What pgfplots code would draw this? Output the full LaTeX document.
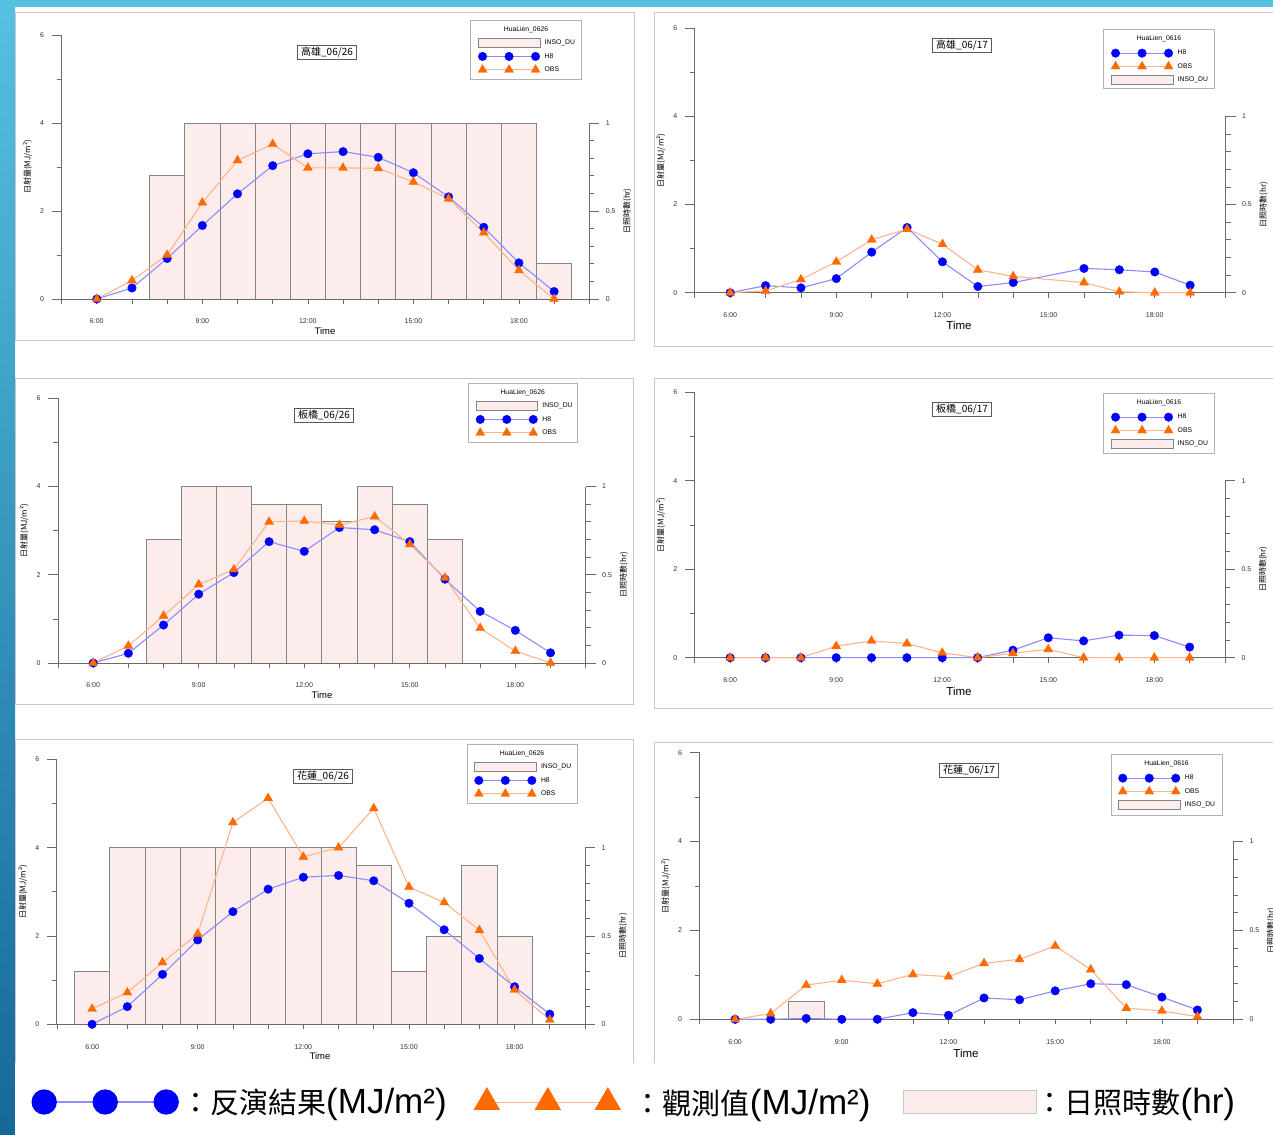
\documentclass[border=0pt]{standalone}
\usepackage{fontspec}
\setmainfont{Liberation Sans}
\newfontfamily\cjk{Noto Sans CJK TC}
\usepackage{pgfplots}
\pgfplotsset{compat=1.18}
\usepackage{pgfplotstable}

\definecolor{hb}{HTML}{0000FF}
\definecolor{hbl}{HTML}{8C8CFF}
\definecolor{ob}{HTML}{FF6A00}
\definecolor{obl}{HTML}{FFB48A}
\definecolor{barfill}{HTML}{FDECEC}
\definecolor{bardraw}{HTML}{858585}
\definecolor{axgray}{HTML}{6A6A6A}
\definecolor{framegray}{HTML}{C8C8C8}
\definecolor{slidecyan}{HTML}{56C1E1}
\definecolor{slideblue}{HTML}{16689A}

\newcommand\ticfont{\fontsize{7}{8}\selectfont}
\newcommand\lblfont{\cjk\fontsize{8}{9}\selectfont}
\newcommand\legfont{\fontsize{6.8}{8}\selectfont}
\newcommand\ttlfont{\cjk\fontsize{10}{11}\selectfont}
\newcommand\botfont{\cjk\fontsize{29}{32}\selectfont}
\newcommand\botlat{\rmfamily\fontsize{35}{38}\selectfont}

% ---------- data ----------
% Panel A: Kaohsiung 06/26
\pgfplotstableread{
x y
6 0
7 0.25
8 0.92
9 1.67
10 2.39
11 3.03
12 3.30
13 3.35
14 3.22
15 2.87
16 2.32
17 1.63
18 0.82
19 0.17
}\hA
\pgfplotstableread{
x y
6 0
7 0.42
8 1.00
9 2.19
10 3.15
11 3.52
12 2.98
13 2.98
14 2.97
15 2.66
16 2.28
17 1.51
18 0.65
19 0
}\oA
\pgfplotstableread{
x y
8 0.7
9 1
10 1
11 1
12 1
13 1
14 1
15 1
16 1
17 1
18 1
19 0.2
}\bA
% Panel B: Kaohsiung 06/17
\pgfplotstableread{
x y
6 0
7 0.16
8 0.11
9 0.32
10 0.92
11 1.48
12 0.70
13 0.14
14 0.23
16 0.55
17 0.52
18 0.47
19 0.17
}\hB
\pgfplotstableread{
x y
6 0
7 0.04
8 0.30
9 0.70
10 1.20
11 1.44
12 1.10
13 0.52
14 0.37
16 0.23
17 0.02
18 0
19 0
}\oB
% Panel C: Banqiao 06/26
\pgfplotstableread{
x y
6 0
7 0.22
8 0.86
9 1.56
10 2.05
11 2.75
12 2.53
13 3.07
14 3.02
15 2.75
16 1.90
17 1.17
18 0.74
19 0.23
}\hC
\pgfplotstableread{
x y
6 0
7 0.39
8 1.07
9 1.78
10 2.12
11 3.20
12 3.22
13 3.13
14 3.32
15 2.69
16 1.93
17 0.79
18 0.27
19 0
}\oC
\pgfplotstableread{
x y
8 0.7
9 1
10 1
11 0.9
12 0.9
13 0.8
14 1
15 0.9
16 0.7
}\bC
% Panel D: Banqiao 06/17
\pgfplotstableread{
x y
6 0
7 0
8 0
9 0
10 0
11 0
12 0
13 0
14 0.17
15 0.45
16 0.38
17 0.51
18 0.50
19 0.24
}\hD
\pgfplotstableread{
x y
6 0
7 0
8 0
9 0.26
10 0.38
11 0.32
12 0.11
13 0
14 0.10
15 0.19
16 0
17 0
18 0
19 0
}\oD
% Panel E: Hualien 06/26
\pgfplotstableread{
x y
6 0
7 0.40
8 1.13
9 1.91
10 2.55
11 3.06
12 3.33
13 3.37
14 3.25
15 2.74
16 2.14
17 1.49
18 0.85
19 0.23
}\hE
\pgfplotstableread{
x y
6 0.35
7 0.72
8 1.40
9 2.05
10 4.57
11 5.12
12 3.79
13 4.00
14 4.89
15 3.11
16 2.76
17 2.13
18 0.78
19 0.10
}\oE
\pgfplotstableread{
x y
6 0.3
7 1
8 1
9 1
10 1
11 1
12 1
13 1
14 0.9
15 0.3
16 0.5
17 0.9
18 0.5
}\bE
% Panel F: Hualien 06/17
\pgfplotstableread{
x y
6 0
7 0
8 0.02
9 0
10 0
11 0.15
12 0.09
13 0.48
14 0.44
15 0.64
16 0.80
17 0.78
18 0.50
19 0.21
}\hF
\pgfplotstableread{
x y
6 0
7 0.13
8 0.77
9 0.88
10 0.80
11 1.01
12 0.96
13 1.26
14 1.35
15 1.65
16 1.12
17 0.25
18 0.19
19 0.06
}\oF
\pgfplotstableread{
x y
8 0.1
}\bF

\pgfplotsset{
  panel/.style n args={4}{at={(#1pt,#2pt)}, anchor=south west, scale only axis,
    width=#3pt, height=#4pt, xmin=5, xmax=20, clip=false},
  barax/.style={
    ymin=0, ymax=1.5,
    axis x line=none, axis y line*=right,
    y axis line style={draw=none},
    ytick={0,0.5,1}, yticklabels={0,0.5,1},
    minor ytick={0.1,0.2,0.3,0.4,0.6,0.7,0.8,0.9},
    tick align=outside, major tick length=10pt, minor tick length=5pt,
    every tick/.style={axgray, line width=0.7pt},
    yticklabel style={font=\ticfont, text=black!80, xshift=3pt},
    after end axis/.code={
      \draw[axgray, line width=0.8pt] (axis cs:20,0) -- (axis cs:20,1);
      \node[xshift=38pt, rotate=90, font=\lblfont] at (axis cs:20,0.5) {日照時數(hr)};
    },
  },
  lineax/.style={
    ymin=0, ymax=6,
    axis x line*=bottom, axis y line*=left,
    axis line style={axgray, line width=0.8pt, -},
    xtick={6,9,12,15,18}, xticklabels={6:00,9:00,12:00,15:00,18:00},
    major x tick style={draw=none},
    minor xtick={5,6,...,20},
    ytick={0,2,4,6}, yticklabels={0,2,4,6}, minor ytick={1,3,5},
    tick align=outside, major tick length=10pt, minor tick length=5pt,
    every tick/.style={axgray, line width=0.7pt},
    xticklabel style={font=\ticfont, text=black!80, yshift=-6.5pt},
    yticklabel style={font=\ticfont, text=black!80, xshift=-4pt},
    legend style={draw=none, fill=none, anchor=north west, at={(1,1)},
      font=\legfont, row sep=0pt, column sep=4.5pt, inner sep=0pt,
      nodes={inner sep=0pt, minimum height=13.3pt}},
    legend cell align=left,
    legend image code/.code={\draw[##1] plot coordinates {(0pt,0pt) (26.5pt,0pt) (53pt,0pt)};},
    after end axis/.code={
      \node[xshift=-34pt, rotate=90, font=\lblfont] at (axis cs:5,3) {日射量(MJ/m²)};
    },
  },
  hstyle/.style={hbl, line width=1.1pt, mark=*, mark size=4.3pt,
    mark options={draw=hb, fill=hb, line width=0.3pt}},
  ostyle/.style={obl, line width=1.1pt, mark=triangle*, mark size=5.2pt,
    mark options={draw=ob, fill=ob, line width=0.3pt}},
  bstyle/.style={ybar, bar width=1, bar shift=0pt, fill=barfill, draw=bardraw, line width=0.8pt},
  inso/.style={legend image code/.code={\draw[##1] (-4.3pt,-4.5pt) rectangle (57.3pt,4.5pt);},
    fill=barfill, draw=bardraw, line width=0.7pt},
}

\begin{document}
\begin{tikzpicture}[x=1pt,y=1pt]
\useasboundingbox (0,0) rectangle (1273,1134);
\fill[white] (0,0) rectangle (1273,1134);
\shade[top color=slidecyan, bottom color=slideblue] (0,0) rectangle (15,1134);
\fill[slidecyan] (0,1127) rectangle (1273,1134);

% panel frames
\draw[framegray, line width=0.8pt, fill=white] (15,794) rectangle (634,1122);
\draw[framegray, line width=0.8pt, fill=white] (654,788) rectangle (1273.5,1122);
\draw[framegray, line width=0.8pt, fill=white] (15,430) rectangle (633,756);
\draw[framegray, line width=0.8pt, fill=white] (654,426) rectangle (1273.5,756);
\draw[framegray, line width=0.8pt, fill=white] (15,68) rectangle (633,395);
\draw[framegray, line width=0.8pt, fill=white] (654,68) rectangle (1273.5,392);

% ===== Panel A =====
\begin{axis}[panel={61.6}{835}{527.7}{264}, barax]
\addplot[bstyle] table[x index=0,y index=1] {\bA};
\end{axis}
\draw[gray!60, line width=0.7pt, fill=white] (470.7,1114) rectangle (581,1055);
\node[font=\legfont] at (526,1104) {HuaLien\_0626};
\begin{axis}[panel={61.6}{835}{527.7}{264}, lineax, legend style={xshift=-111.6pt, yshift=-1.3pt}]
\addlegendimage{inso}\addlegendentry{INSO\_DU}
\addplot[hstyle] table[x index=0,y index=1] {\hA};\addlegendentry{H8}
\addplot[ostyle] table[x index=0,y index=1] {\oA};\addlegendentry{OBS}
\end{axis}
\node[draw=gray!70!black, line width=0.7pt, fill=white, inner xsep=3.5pt, inner ysep=2pt, font=\ttlfont] at (327,1082) {高雄\_06/26};
\node[font=\fontsize{9.5}{10}\selectfont] at (325,803) {Time};

% ===== Panel B =====
\begin{axis}[panel={694.8}{841.3}{530.7}{264.4}, barax]
\end{axis}
\draw[gray!60, line width=0.7pt, fill=white] (1103.7,1105) rectangle (1214,1045.3);
\node[font=\legfont] at (1159,1095) {HuaLien\_0616};
\begin{axis}[panel={694.8}{841.3}{530.7}{264.4}, lineax, legend style={xshift=-114.8pt, yshift=-18pt}]
\addplot[hstyle] table[x index=0,y index=1] {\hB};\addlegendentry{H8}
\addplot[ostyle] table[x index=0,y index=1] {\oB};\addlegendentry{OBS}
\addlegendimage{inso}\addlegendentry{INSO\_DU}
\end{axis}
\node[draw=gray!70!black, line width=0.7pt, fill=white, inner xsep=3.5pt, inner ysep=2pt, font=\ttlfont] at (962,1089) {高雄\_06/17};
\node[font=\fontsize{11.5}{12}\selectfont] at (959,809) {Time};

% ===== Panel C =====
\begin{axis}[panel={58}{471}{527.7}{264.7}, barax]
\addplot[bstyle] table[x index=0,y index=1] {\bC};
\end{axis}
\draw[gray!60, line width=0.7pt, fill=white] (468.4,751) rectangle (577,691.3);
\node[font=\legfont] at (522.7,741) {HuaLien\_0626};
\begin{axis}[panel={58}{471}{527.7}{264.7}, lineax, legend style={xshift=-110.3pt, yshift=-1pt}]
\addlegendimage{inso}\addlegendentry{INSO\_DU}
\addplot[hstyle] table[x index=0,y index=1] {\hC};\addlegendentry{H8}
\addplot[ostyle] table[x index=0,y index=1] {\oC};\addlegendentry{OBS}
\end{axis}
\node[draw=gray!70!black, line width=0.7pt, fill=white, inner xsep=3.5pt, inner ysep=2pt, font=\ttlfont] at (324,719) {板橋\_06/26};
\node[font=\fontsize{9.5}{10}\selectfont] at (322,439) {Time};

% ===== Panel D =====
\begin{axis}[panel={694.8}{476.3}{530.2}{265.4}, barax]
\end{axis}
\draw[gray!60, line width=0.7pt, fill=white] (1103.7,741) rectangle (1214,680.3);
\node[font=\legfont] at (1159,731) {HuaLien\_0616};
\begin{axis}[panel={694.8}{476.3}{530.2}{265.4}, lineax, legend style={xshift=-114.3pt, yshift=-18pt}]
\addplot[hstyle] table[x index=0,y index=1] {\hD};\addlegendentry{H8}
\addplot[ostyle] table[x index=0,y index=1] {\oD};\addlegendentry{OBS}
\addlegendimage{inso}\addlegendentry{INSO\_DU}
\end{axis}
\node[draw=gray!70!black, line width=0.7pt, fill=white, inner xsep=3.5pt, inner ysep=2pt, font=\ttlfont] at (962,725) {板橋\_06/17};
\node[font=\fontsize{11.5}{12}\selectfont] at (959,443) {Time};

% ===== Panel E =====
\begin{axis}[panel={56.9}{109.7}{528.1}{265}, barax]
\addplot[bstyle] table[x index=0,y index=1] {\bE};
\end{axis}
\draw[gray!60, line width=0.7pt, fill=white] (467,390) rectangle (577,331);
\node[font=\legfont] at (522,380) {HuaLien\_0626};
\begin{axis}[panel={56.9}{109.7}{528.1}{265}, lineax, legend style={xshift=-111pt, yshift=-1pt}]
\addlegendimage{inso}\addlegendentry{INSO\_DU}
\addplot[hstyle] table[x index=0,y index=1] {\hE};\addlegendentry{H8}
\addplot[ostyle] table[x index=0,y index=1] {\oE};\addlegendentry{OBS}
\end{axis}
\node[draw=gray!70!black, line width=0.7pt, fill=white, inner xsep=3.5pt, inner ysep=2pt, font=\ttlfont] at (323,358) {花蓮\_06/26};
\node[font=\fontsize{9.5}{10}\selectfont] at (320,78) {Time};

% ===== Panel F =====
\begin{axis}[panel={699.5}{114.7}{533.5}{266.6}, barax]
\addplot[bstyle] table[x index=0,y index=1] {\bF};
\end{axis}
\draw[gray!60, line width=0.7pt, fill=white] (1110.9,380) rectangle (1222,319);
\node[font=\legfont] at (1166.5,370) {HuaLien\_0616};
\begin{axis}[panel={699.5}{114.7}{533.5}{266.6}, lineax, legend style={xshift=-115.1pt, yshift=-18.6pt}]
\addplot[hstyle] table[x index=0,y index=1] {\hF};\addlegendentry{H8}
\addplot[ostyle] table[x index=0,y index=1] {\oF};\addlegendentry{OBS}
\addlegendimage{inso}\addlegendentry{INSO\_DU}
\end{axis}
\node[draw=gray!70!black, line width=0.7pt, fill=white, inner xsep=3.5pt, inner ysep=2pt, font=\ttlfont] at (969,364) {花蓮\_06/17};
\node[font=\fontsize{11.5}{12}\selectfont] at (966,81) {Time};

% ===== bottom legend band =====
\fill[white] (15,0) rectangle (1273,71);

\begin{axis}[at={(0pt,0pt)}, anchor=south west, scale only axis, width=1273pt, height=1134pt,
  hide axis, xmin=0, xmax=1, ymin=0, ymax=1,
  legend style={at={(0,0)}, anchor=west, xshift=32pt, yshift=32pt, draw=none, fill=none,
    font=\botfont, inner sep=0pt, column sep=3pt, nodes={inner sep=0pt}},
  legend image code/.code={\draw[#1] plot coordinates {(12pt,0pt) (73pt,0pt) (134pt,0pt)};}]
\addlegendimage{hbl, line width=1.3pt, mark=*, mark size=12pt, mark options={draw=hb, fill=hb}}
\addlegendentry{：反演結果{\botlat(MJ/m²)}}
\end{axis}
\begin{axis}[at={(0pt,0pt)}, anchor=south west, scale only axis, width=1273pt, height=1134pt,
  hide axis, xmin=0, xmax=1, ymin=0, ymax=1,
  legend style={at={(0,0)}, anchor=west, xshift=474.5pt, yshift=32pt, draw=none, fill=none,
    font=\botfont, inner sep=0pt, column sep=14pt, nodes={inner sep=0pt}},
  legend image code/.code={\draw[#1] plot coordinates {(12.5pt,0pt) (73.5pt,0pt) (133.5pt,0pt)};}]
\addlegendimage{obl, line width=1.3pt, mark=triangle*, mark size=14pt, mark options={draw=ob, fill=ob}}
\addlegendentry{：觀測值{\botlat(MJ/m²)}}
\end{axis}
\begin{axis}[at={(0pt,0pt)}, anchor=south west, scale only axis, width=1273pt, height=1134pt,
  hide axis, xmin=0, xmax=1, ymin=0, ymax=1,
  legend style={at={(0,0)}, anchor=west, xshift=903pt, yshift=32pt, draw=none, fill=none,
    font=\botfont, inner sep=0pt, column sep=0pt, nodes={inner sep=0pt}},
  legend image code/.code={\draw[#1] (0pt,-11.5pt) rectangle (133pt,11.5pt);}]
\addlegendimage{fill=barfill, draw=framegray, line width=1pt}
\addlegendentry{\kern-1.5pt：日照時數{\botlat(hr)}}
\end{axis}
\end{tikzpicture}
\end{document}
